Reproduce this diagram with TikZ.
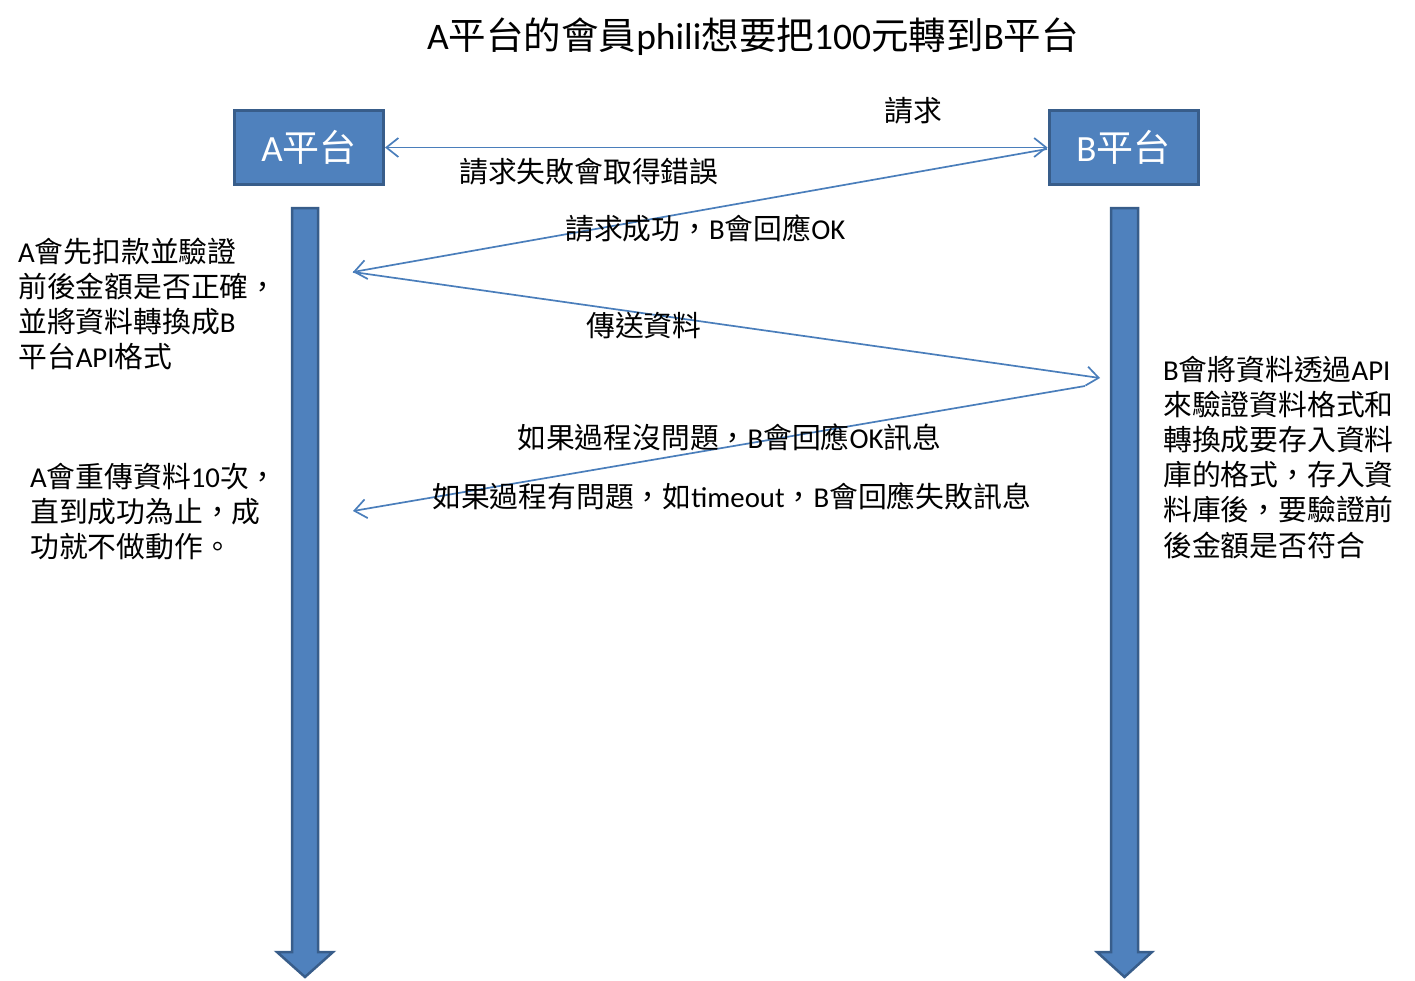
\documentclass[tikz,border=0pt]{standalone}
\usepackage{fontspec}
\setmainfont{Noto Sans CJK TC}
\newfontfamily\latfont{Carlito}
\newcommand\en[1]{{\latfont #1}}
\usetikzlibrary{arrows.meta}
\definecolor{boxfill}{HTML}{4F81BD}
\definecolor{boxline}{HTML}{385D8A}
\definecolor{lineblue}{HTML}{4A7EBB}
\newcommand\bodyfont{\fontsize{28.8}{35.1}\selectfont}
\tikzset{
  box/.style={draw=boxline, fill=boxfill, line width=3pt, minimum width=149pt, minimum height=74pt,
    text=white, font=\fontsize{37}{40}\selectfont, inner sep=0},
  msg/.style={draw=lineblue, line width=1.7pt, -{Straight Barb[length=12pt,width=19pt,line width=1.7pt]}},
  bimsg/.style={draw=lineblue, line width=1.7pt, {Straight Barb[length=12pt,width=19pt,line width=1.7pt]}-{Straight Barb[length=12pt,width=19pt,line width=1.7pt]}},
  lbl/.style={anchor=west, inner sep=0, font=\bodyfont},
  para/.style={anchor=north west, inner sep=0, font=\bodyfont, align=left},
  bar/.style={fill=boxfill, draw=boxline, line width=2.5pt, line join=miter}
}
\begin{document}
\begin{tikzpicture}[x=1pt,y=-1pt]
\useasboundingbox (0,0) rectangle (1415,980);
% title
\node[inner sep=0, font=\fontsize{37.5}{40}\selectfont] (title) at (753,37) {\en{A}平台的會員\en{phili}想要把\en{100}元轉到\en{B}平台};
% boxes
\node[box] (A) at (309,147.5) {\en{A}平台};
\node[box] (B) at (1123.5,147.5) {\en{B}平台};
% lifelines
\draw[bar] (292,208) -- (318,208) -- (318,952) -- (333,952) -- (305,977) -- (277,952) -- (292,952) -- cycle;
\draw[bar] (1111,208) -- (1138,208) -- (1138,952) -- (1152,952) -- (1124.5,977) -- (1097,952) -- (1111,952) -- cycle;
% coordinates
\coordinate (p1) at (353,272);
\coordinate (p2) at (1100,378);
\coordinate (p3) at (1085,386);
\coordinate (p4) at (353,511);
\coordinate (bs) at (1047,149);
% messages
\draw[bimsg] (A.east) -- (B.west);
\draw[msg] (bs) -- (p1);
\draw[msg] (p1) -- (p2);
\draw[msg] (p3) -- (p4);
% labels
\node[inner sep=0, font=\bodyfont] (l1) at (913,111) {請求};
\node[lbl] (l2) at (459,172) {請求失敗會取得錯誤};
\node[lbl] (l3) at (565,228) {請求成功，\en{B}會回應\en{OK}};
\node[lbl] (l4) at (586,326) {傳送資料};
\node[lbl] (l5) at (517,437) {如果過程沒問題，\en{B}會回應\en{OK}訊息};
\node[lbl] (l6) at (432,496) {如果過程有問題，如\en{timeout}，\en{B}會回應失敗訊息};
% paragraphs
\node[para] (pa) at (18,238) {\en{A}會先扣款並驗證\\前後金額是否正確，\\並將資料轉換成\en{B}\\平台\en{API}格式};
\node[para] (pb) at (30,463) {\en{A}會重傳資料\en{10}次，\\直到成功為止，成\\功就不做動作。};
\node[para] (pc) at (1163,356) {\en{B}會將資料透過\en{API}\\來驗證資料格式和\\轉換成要存入資料\\庫的格式，存入資\\料庫後，要驗證前\\後金額是否符合};
\end{tikzpicture}
\end{document}
